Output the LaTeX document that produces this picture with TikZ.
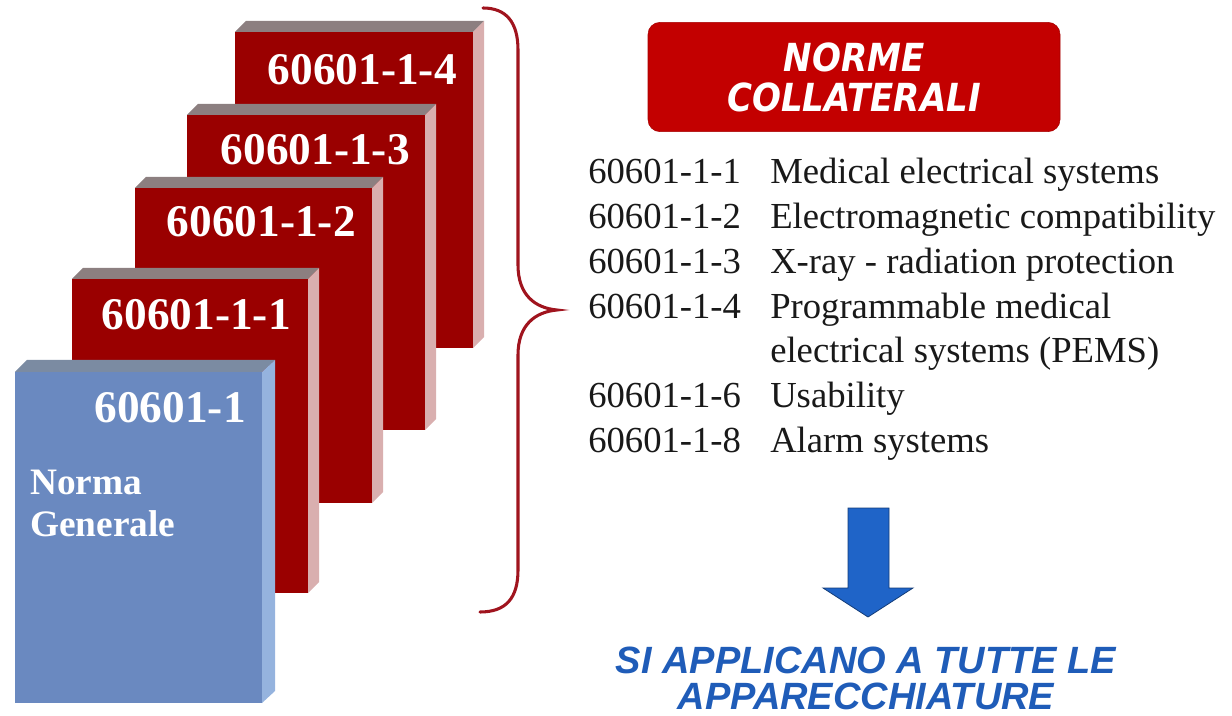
\documentclass[tikz,border=0pt]{standalone}
\usepackage{fontspec}
\setmainfont{Liberation Serif}
\newfontfamily\verdfont[FakeStretch=0.88]{DejaVu Sans}
\newfontfamily\arialfont{Liberation Sans}

\definecolor{boxred}{HTML}{9A0000}
\definecolor{boxredtop}{HTML}{8C7F80}
\definecolor{boxredside}{HTML}{D9AFAF}
\definecolor{boxblue}{HTML}{6A89C0}
\definecolor{boxbluetop}{HTML}{7B8BA2}
\definecolor{boxblueside}{HTML}{95B3DE}
\definecolor{bracered}{HTML}{A0141E}
\definecolor{btnred}{HTML}{C30000}
\definecolor{arrowblue}{HTML}{1F64C8}
\definecolor{capblue}{HTML}{1F5CB8}

\tikzset{
  boxlbl/.style={text=white, inner sep=0pt, anchor=base east, font=\fontsize{34}{40}\selectfont\bfseries},
  genlbl/.style={text=white, inner sep=0pt, anchor=north west, align=left, font=\fontsize{28}{31.5}\selectfont\bfseries},
  code/.style={text=black!90, inner sep=0pt, anchor=base west, font=\fontsize{27.5}{33}\selectfont},
  desc/.style={code},
  btn/.style={fill=btnred, draw=btnred!85!black, rounded corners=9pt, minimum width=309pt, minimum height=82pt,
    inner sep=0pt, text=white, align=center, font=\verdfont\fontsize{29}{30}\selectfont\bfseries\itshape},
  applic/.style={text=capblue, inner sep=0pt, anchor=north, align=center, font=\arialfont\fontsize{28.5}{27}\selectfont\bfseries\itshape}
}

\begin{document}
\begin{tikzpicture}[x=0.75pt,y=-0.75pt]
 \useasboundingbox (0,0) rectangle (1232,716);

 % 60601-1-4
 \fill[boxred] (235,32) rectangle (473,348);
 \fill[boxredtop] (235,32) -- (246,21) -- (484,21) -- (473,32) -- cycle;
 \fill[boxredside] (473,32) -- (484,21) -- (484,337) -- (473,348) -- cycle;
 \node[boxlbl] (n4) at (457,85) {60601-1-4};

 % 60601-1-3
 \fill[boxred] (187,115) rectangle (425,430);
 \fill[boxredtop] (187,115) -- (198,104) -- (436,104) -- (425,115) -- cycle;
 \fill[boxredside] (425,115) -- (436,104) -- (436,419) -- (425,430) -- cycle;
 \node[boxlbl] (n3) at (410,165) {60601-1-3};

 % 60601-1-2
 \fill[boxred] (135,188) rectangle (372,503);
 \fill[boxredtop] (135,188) -- (146,177) -- (383,177) -- (372,188) -- cycle;
 \fill[boxredside] (372,188) -- (383,177) -- (383,492) -- (372,503) -- cycle;
 \node[boxlbl] (n2) at (356,237) {60601-1-2};

 % 60601-1-1
 \fill[boxred] (72,279) rectangle (308,593);
 \fill[boxredtop] (72,279) -- (83,268) -- (319,268) -- (308,279) -- cycle;
 \fill[boxredside] (308,279) -- (319,268) -- (319,582) -- (308,593) -- cycle;
 \node[boxlbl] (n1) at (291,330) {60601-1-1};

 % norma generale
 \fill[boxblue] (15,372) rectangle (262,703);
 \fill[boxbluetop] (15,372) -- (27,360) -- (275,360) -- (262,372) -- cycle;
 \fill[boxblueside] (262,372) -- (275,360) -- (275,691) -- (262,703) -- cycle;
 \node[boxlbl] (n0) at (246,423) {60601-1};
 \node[genlbl] (gen) at (30,470) {Norma\\Generale};

 % brace
 \draw[bracered, line width=2.3pt, line cap=round]
   (483,8) .. controls (506,8) and (518,22) .. (518,50) -- (518,265)
   .. controls (518,295) and (535,308) .. (557,310)
   .. controls (535,312) and (518,325) .. (518,355) -- (518,570)
   .. controls (518,598) and (506,612) .. (480,612);

 \node[btn] (nc) at (854,77) {NORME\\COLLATERALI};

 \node[code] (c1) at (588,184) {60601-1-1};
 \node[desc] (d1) at (770,184) {Medical electrical systems};
 \node[code] (c2) at (588,228.7) {60601-1-2};
 \node[desc] (d2) at (770,228.7) {Electromagnetic compatibility};
 \node[code] (c3) at (588,273.4) {60601-1-3};
 \node[desc] (d3) at (770,273.4) {X-ray - radiation protection};
 \node[code] (c4) at (588,318.1) {60601-1-4};
 \node[desc] (d4) at (770,318.1) {Programmable medical};
 \node[desc] (d4b) at (770,362.8) {electrical systems (PEMS)};
 \node[code] (c6) at (588,407.5) {60601-1-6};
 \node[desc] (d6) at (770,407.5) {Usability};
 \node[code] (c8) at (588,452.2) {60601-1-8};
 \node[desc] (d8) at (770,452.2) {Alarm systems};

 % blue arrow
 \filldraw[fill=arrowblue, draw=arrowblue!60!black, line width=0.6pt]
   (848,508) -- (889,508) -- (889,588) -- (913,588) -- (868,617) -- (823,588) -- (848,588) -- cycle;

 \node[applic] (sa) at (866,647) {SI APPLICANO A TUTTE LE\\APPARECCHIATURE};

\end{tikzpicture}
\end{document}
